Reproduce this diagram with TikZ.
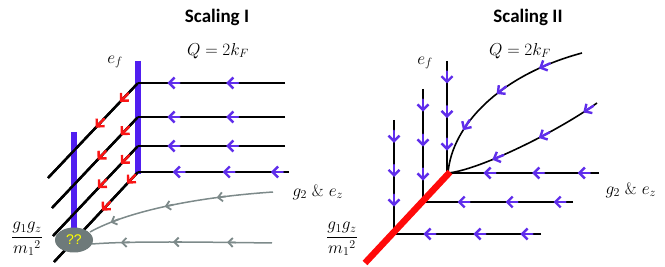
\documentclass[tikz,border=0pt]{standalone}
\usepackage{fontspec}
\newfontfamily\titlefont{Carlito}
\newfontfamily\qfont{Liberation Sans}
\usetikzlibrary{arrows.meta,decorations.markings,shapes.geometric}
\definecolor{barblue}{RGB}{80,30,240}
\definecolor{arrblue}{RGB}{95,45,235}
\definecolor{arrred}{RGB}{250,20,20}
\definecolor{flowgray}{RGB}{125,138,138}
\definecolor{blobgray}{RGB}{110,122,122}
\definecolor{fixred}{RGB}{255,10,10}
\definecolor{qyellow}{RGB}{255,255,0}
\tikzset{
  chev/.style 2 args={postaction={decorate,decoration={markings,
     mark=at position #2 with {\draw[#1,line width=2.4pt,line cap=round,-{Straight Barb[length=5.5pt,width=11pt]}] (-12pt,0) -- (0,0);}}}},
  chevg/.style={postaction={decorate,decoration={markings,
     mark=at position #1 with {\draw[flowgray,line width=1.8pt,-{Straight Barb[length=4.5pt,width=9pt]}] (-9pt,0) -- (0,0);}}}},
  flow/.style={draw=black,line width=2pt},
  diag/.style={draw=black,line width=2.4pt},
  gflow/.style={draw=flowgray,line width=1.5pt},
  bar/.style={draw=barblue,line width=5.5pt},
  ttl/.style={font=\titlefont\bfseries\fontsize{19}{21}\selectfont},
  lbl/.style={font=\fontsize{16.5}{19}\selectfont},
  frac/.style={font=\fontsize{17}{20}\selectfont},
}
\begin{document}
\begin{tikzpicture}[x=1pt,y=-1pt]
\useasboundingbox (0,0) rectangle (665,267);
% ---------------- Scaling I ----------------
\coordinate (R1) at (138,83);  \coordinate (E1) at (285,83);  \coordinate (D1) at (48,178);
\coordinate (R2) at (138,117); \coordinate (E2) at (285,117); \coordinate (D2) at (52,208);
\coordinate (R3) at (138,146); \coordinate (E3) at (285,146); \coordinate (D3) at (53,236);
\coordinate (R4) at (138,172); \coordinate (E4) at (289,172); \coordinate (D4) at (54,262);
\coordinate (BT) at (138,61);  \coordinate (BB) at (138,174);
\coordinate (LT) at (74,132);  \coordinate (LB) at (74,230);
\coordinate (G1) at (273,192); \coordinate (G1e) at (90,232);
\coordinate (G2) at (272,243); \coordinate (G2e) at (92,244);

\path[diag] (R1) -- (D1);
\path[diag] (R2) -- (D2);
\path[diag] (R3) -- (D3);
\path[diag] (R4) -- (D4);
\path[bar] (LT) -- (LB);
\path[bar] (BT) -- (BB);
\path[diag,chev={arrred}{0.2},chev={arrred}{0.47}] (R1) -- (D1);
\path[diag,chev={arrred}{0.2},chev={arrred}{0.47}] (R2) -- (D2);
\path[diag,chev={arrred}{0.2},chev={arrred}{0.47}] (R3) -- (D3);
\path[diag,chev={arrred}{0.13},chev={arrred}{0.43}] (R4) -- (D4);
\path[flow,chev={arrblue}{0.4},chev={arrblue}{0.8}] (E1) -- (R1);
\path[flow,chev={arrblue}{0.4},chev={arrblue}{0.8}] (E2) -- (R2);
\path[flow,chev={arrblue}{0.4},chev={arrblue}{0.8}] (E3) -- (R3);
\path[flow,line width=2.6pt,chev={arrblue}{0.12},chev={arrblue}{0.44},chev={arrblue}{0.77}] (E4) -- (R4);
\path[gflow,chevg=0.3,chevg=0.58,chevg=0.88] (G1) .. controls (200,197) and (130,210) .. (G1e);
\path[gflow,chevg=0.25,chevg=0.55,chevg=0.84] (G2) .. controls (200,242) and (130,241) .. (G2e);
\node[ellipse,fill=blobgray,minimum width=38pt,minimum height=25pt,inner sep=0pt,
      text=qyellow,font=\qfont\fontsize{14}{16}\selectfont] (blob) at (74,240) {??};

\node[ttl] (t1) at (217,17) {Scaling I};
\node[lbl] (q1) at (218,51) {$Q = 2k_F$};
\node[lbl] (ef1) at (115,62) {$e_f$};
\node[lbl,anchor=west] (gz1) at (289,192) {$g_2$ \& $e_z$};
\node[frac] (fr1) at (27,239) {$\displaystyle\frac{g_1 g_z}{{m_1}^2}$};

% ---------------- Scaling II ----------------
\coordinate (O) at (448,173);
\coordinate (V1t) at (447,61);  \coordinate (V1b) at (447,173);
\coordinate (V2t) at (423,89);  \coordinate (V2b) at (423,202);
\coordinate (V3t) at (394,120); \coordinate (V3b) at (394,234);
\coordinate (H1e) at (599,173); \coordinate (H2e) at (573,202); \coordinate (H3e) at (541,234);
\coordinate (C1) at (582,53);   \coordinate (C2) at (597,103);
\coordinate (Fa) at (450,172);  \coordinate (Fb) at (365,263);

\path[flow,chev={arrblue}{0.2},chev={arrblue}{0.51},chev={arrblue}{0.8}] (V1t) -- (V1b);
\path[flow,chev={arrblue}{0.2},chev={arrblue}{0.51},chev={arrblue}{0.81}] (V2t) -- (V2b);
\path[flow,chev={arrblue}{0.2},chev={arrblue}{0.5},chev={arrblue}{0.76}] (V3t) -- (V3b);
\path[flow,chev={arrblue}{0.14},chev={arrblue}{0.44},chev={arrblue}{0.76}] (H1e) -- (V1b);
\path[flow,chev={arrblue}{0.13},chev={arrblue}{0.45},chev={arrblue}{0.77}] (H2e) -- (V2b);
\path[flow,chev={arrblue}{0.14},chev={arrblue}{0.46},chev={arrblue}{0.8}] (H3e) -- (V3b);
\path[flow,line width=1.6pt,chev={arrblue}{0.24},chev={arrblue}{0.5},chev={arrblue}{0.76}] (C1) .. controls (500,75) and (452,125) .. (O);
\path[flow,line width=1.6pt,chev={arrblue}{0.1},chev={arrblue}{0.41},chev={arrblue}{0.72}] (C2) .. controls (560,130) and (480,170) .. (O);
\path[draw=fixred,line width=6.5pt] (Fa) -- (Fb);

\node[ttl] (t2) at (528,17) {Scaling II};
\node[lbl] (q2) at (520,51) {$Q = 2k_F$};
\node[lbl] (ef2) at (425,63) {$e_f$};
\node[lbl,anchor=west] (gz2) at (602,190) {$g_2$ \& $e_z$};
\node[frac] (fr2) at (342,239) {$\displaystyle\frac{g_1 g_z}{{m_1}^2}$};
\end{tikzpicture}
\end{document}
